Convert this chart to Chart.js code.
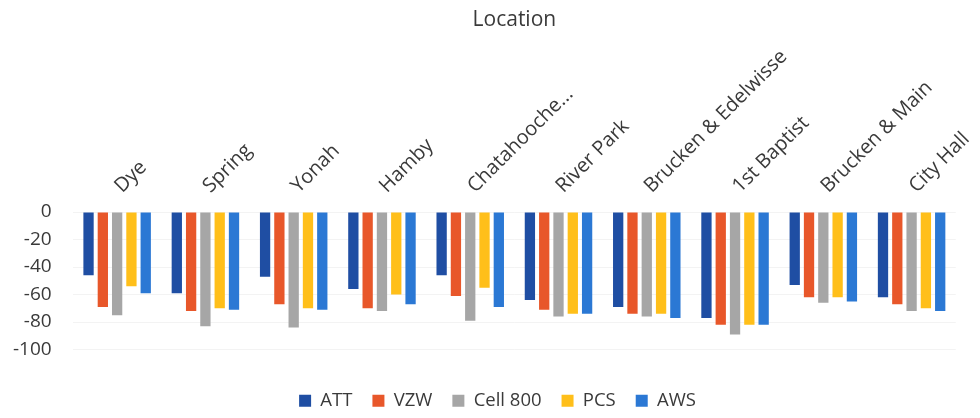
<!DOCTYPE html>
<html>
<head>
<meta charset="utf-8">
<script src="https://cdn.jsdelivr.net/npm/chart.js@4/dist/chart.umd.min.js"></script>
<style>
  html, body { margin: 0; padding: 0; background: #ffffff; }
  #wrap { width: 980px; height: 418px; position: relative; }
</style>
</head>
<body>
<div id="wrap"><canvas id="chart"></canvas></div>
<script>
// --- DATA ---
const locations = ['Dye', 'Spring', 'Yonah', 'Hamby', 'Chatahooche...', 'River Park',
  'Brucken & Edelwisse', '1st Baptist', 'Brucken & Main', 'City Hall'];
const attValues     = [-46, -59, -47, -56, -46, -64, -69, -77, -53, -62];
const vzwValues     = [-69, -72, -67, -70, -61, -71, -74, -82, -62, -67];
const cell800Values = [-75, -83, -84, -72, -79, -76, -76, -89, -66, -72];
const pcsValues     = [-54, -70, -70, -60, -55, -74, -74, -82, -62, -70];
const awsValues     = [-59, -71, -71, -67, -69, -74, -77, -82, -65, -72];
const yTicks = [0, -20, -40, -60, -80, -100];

// --- STYLE ---
const FONT = '"Open Sans", sans-serif';
const TEXT_COLOR = '#3a3a3a';

const series = [
  { label: 'ATT', data: attValues, color: '#1f4ea3' },
  { label: 'VZW', data: vzwValues, color: '#e8572a' },
  { label: 'Cell 800', data: cell800Values, color: '#a6a6a6' },
  { label: 'PCS', data: pcsValues, color: '#ffbf1a' },
  { label: 'AWS', data: awsValues, color: '#2b78d4' }
];

const ctx = document.getElementById('chart').getContext('2d');
new Chart(ctx, {
  type: 'bar',
  data: {
    labels: locations,
    datasets: series.map(s => ({
      label: s.label,
      data: s.data,
      backgroundColor: s.color,
      borderWidth: 0,
      categoryPercentage: 0.81,
      barPercentage: 0.72
    }))
  },
  options: {
    responsive: true,
    maintainAspectRatio: false,
    animation: false,
    layout: { padding: { left: 29, right: 14, top: 0, bottom: -2 } },
    scales: {
      x: {
        position: 'top',
        grid: { display: false, drawTicks: false },
        border: { display: false },
        ticks: {
          color: TEXT_COLOR,
          font: { family: FONT, size: 20 },
          minRotation: 45,
          maxRotation: 45,
          autoSkip: false,
          labelOffset: 18,
          padding: 14
        },
        title: {
          display: true,
          text: 'Location',
          color: TEXT_COLOR,
          font: { family: FONT, size: 21 },
          padding: { top: 7, bottom: 0 }
        },
        afterFit: (scale) => { scale.height = 212; }
      },
      y: {
        min: -100,
        max: 0,
        afterBuildTicks: (scale) => { scale.ticks = yTicks.map(v => ({ value: v })); },
        grid: { color: '#f3f3f3', drawTicks: false },
        border: { display: false },
        ticks: {
          color: TEXT_COLOR,
          font: { family: FONT, size: 19 },
          // mirrored + far alignment keeps labels right-aligned left of the plot without clipping
          mirror: true,
          crossAlign: 'far',
          padding: -60
        },
        afterFit: (scale) => { scale.width = 44; }
      }
    },
    plugins: {
      legend: {
        position: 'bottom',
        title: { display: true, text: '', font: { size: 10 }, padding: { top: 0, bottom: 10 } },
        labels: {
          color: TEXT_COLOR,
          font: { family: FONT, size: 18.5 },
          boxWidth: 12,
          boxHeight: 12,
          padding: 20
        }
      },
      tooltip: { enabled: false }
    }
  }
});
</script>
</body>
</html>
